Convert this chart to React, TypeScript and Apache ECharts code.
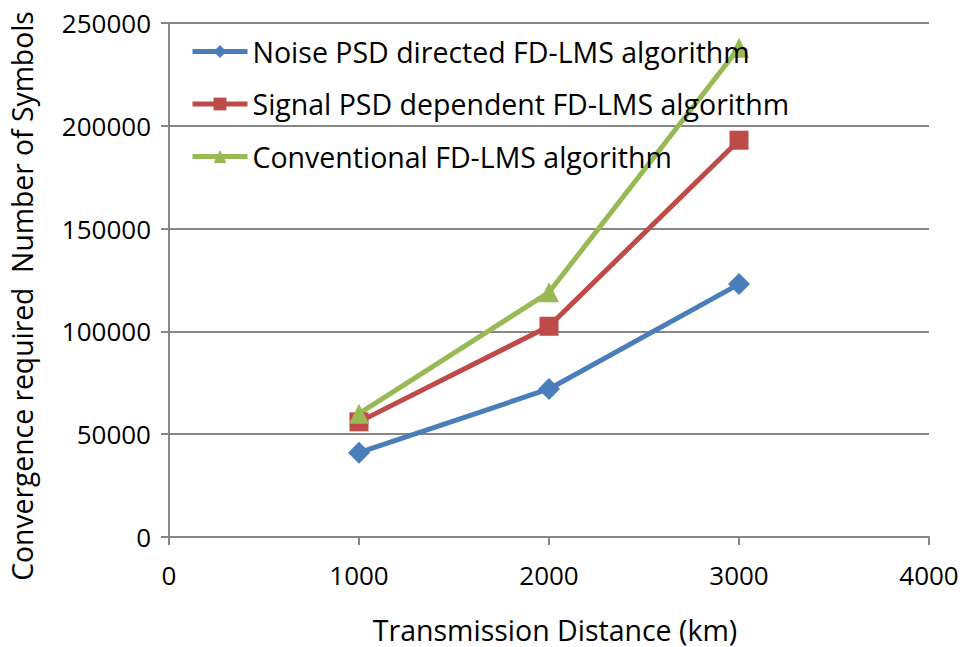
import React, { useEffect, useRef } from "react";
import * as echarts from "echarts";

const distances = [1000, 2000, 3000];
const noisePSD = [41000, 72000, 123000];
const signalPSD = [56000, 102500, 193000];
const conventional = [60000, 119000, 238000];
const seriesNames = [
  "Noise PSD directed FD-LMS algorithm",
  "Signal PSD dependent FD-LMS algorithm",
  "Conventional FD-LMS algorithm",
];
const xAxisTitle = "Transmission Distance (km)";
const yAxisTitle = "Convergence required  Number of Symbols";

const FONT = "'Open Sans', Lato, sans-serif";

export default function App() {
  const ref = useRef<HTMLDivElement>(null);
  useEffect(() => {
    if (!ref.current) return;
    const chart = echarts.init(ref.current, null, { renderer: "svg" });
    const pair = (ys: number[]) => distances.map((d, i) => [d, ys[i]]);
    const mk = (name: string, ys: number[], color: string, symbol: string, size: number) => ({
      name,
      type: "line",
      data: pair(ys),
      symbol,
      symbolSize: size,
      showSymbol: true,
      lineStyle: { color, width: 5 },
      itemStyle: { color },
      z: 3,
    });
    chart.setOption({
      animation: false,
      backgroundColor: "#ffffff",
      grid: {
        left: 169,
        right: 39,
        top: 23,
        bottom: 110,
        containLabel: false,
        outerBoundsMode: "none",
      },
      legend: {
        orient: "vertical",
        left: 185,
        top: 32,
        itemWidth: 55,
        itemHeight: 16,
        itemGap: 23.5,
        lineStyle: { width: 5 },
        textStyle: { fontFamily: FONT, fontSize: 28.5, color: "#000" },
        data: seriesNames,
      },
      xAxis: {
        type: "value",
        min: 0,
        max: 4000,
        interval: 1000,
        name: xAxisTitle,
        nameLocation: "middle",
        nameGap: 78,
        nameTextStyle: { fontFamily: FONT, fontSize: 28.5, color: "#000", padding: [0, 0, 0, 12] },
        axisLine: { show: true, lineStyle: { color: "#868686", width: 2 } },
        axisTick: { show: true, length: 8, lineStyle: { color: "#868686", width: 2 } },
        axisLabel: { fontFamily: FONT, fontSize: 26, color: "#000", margin: 25, formatter: (v: number) => String(v) },
        splitLine: { show: false },
      },
      yAxis: {
        type: "value",
        min: 0,
        max: 250000,
        interval: 50000,
        name: yAxisTitle,
        nameLocation: "middle",
        nameGap: 133,
        nameTextStyle: { fontFamily: FONT, fontSize: 28.3, color: "#000", padding: [0, 32, 0, 0] },
        axisLine: { show: true, lineStyle: { color: "#868686", width: 2 } },
        axisTick: { show: true, length: 8, lineStyle: { color: "#868686", width: 2 } },
        axisLabel: { fontFamily: FONT, fontSize: 26, color: "#000", margin: 18, formatter: (v: number) => String(v) },
        splitLine: { show: true, lineStyle: { color: "#868686", width: 2 } },
      },
      series: [
        mk(seriesNames[0], noisePSD, "#4a7ebb", "diamond", 22),
        mk(seriesNames[1], signalPSD, "#be4b48", "rect", 19),
        mk(seriesNames[2], conventional, "#98b954", "triangle", 20),
      ],
    });
    return () => chart.dispose();
  }, []);
  return (
    <div
      ref={ref}
      style={{ position: "fixed", left: 0, top: 0, width: 968, height: 647 }}
    />
  );
}
